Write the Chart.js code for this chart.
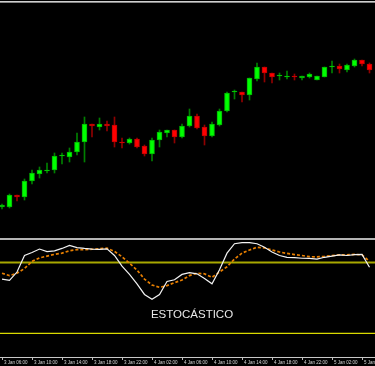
<!DOCTYPE html>
<html><head><meta charset="utf-8">
<script src="https://cdn.jsdelivr.net/npm/chart.js@4.4.1/dist/chart.umd.min.js"></script>
<style>
html,body{margin:0;padding:0;background:#000;width:375px;height:366px;overflow:hidden}
#main{position:absolute;left:0;top:0}
#osc{position:absolute;left:0;top:238px}
</style></head><body>
<canvas id="main" width="375" height="237"></canvas>
<canvas id="osc" width="375" height="128"></canvas>
<script>
// hourly candles, 3 Jan 06:00 .. 5 Jan 07:00
const hours = [
 "3 Jan 06:00","3 Jan 07:00","3 Jan 08:00","3 Jan 09:00","3 Jan 10:00","3 Jan 11:00","3 Jan 12:00","3 Jan 13:00",
 "3 Jan 14:00","3 Jan 15:00","3 Jan 16:00","3 Jan 17:00","3 Jan 18:00","3 Jan 19:00","3 Jan 20:00","3 Jan 21:00",
 "3 Jan 22:00","3 Jan 23:00","4 Jan 00:00","4 Jan 01:00","4 Jan 02:00","4 Jan 03:00","4 Jan 04:00","4 Jan 05:00",
 "4 Jan 06:00","4 Jan 07:00","4 Jan 08:00","4 Jan 09:00","4 Jan 10:00","4 Jan 11:00","4 Jan 12:00","4 Jan 13:00",
 "4 Jan 14:00","4 Jan 15:00","4 Jan 16:00","4 Jan 17:00","4 Jan 18:00","4 Jan 19:00","4 Jan 20:00","4 Jan 21:00",
 "4 Jan 22:00","4 Jan 23:00","5 Jan 00:00","5 Jan 01:00","5 Jan 02:00","5 Jan 03:00","5 Jan 04:00","5 Jan 05:00",
 "5 Jan 06:00","5 Jan 07:00"
];
const tickIdx = [0,4,8,12,16,20,24,28,32,36,40,44,48];

const open  = [1.4293,1.4293,1.4305,1.4303,1.4319,1.4326,1.4329,1.4330,1.4344,1.4343,
               1.4348,1.4358,1.4376,1.4373,1.4376,1.4375,1.4358,1.4357,1.4361,1.4354,
               1.4346,1.4360,1.4367,1.4370,1.4363,1.4374,1.4384,1.4373,1.4364,1.4375,
               1.4389,1.4408,1.4408,1.4405,1.4421,1.4433,1.4427,1.4424,1.4423,1.4424,
               1.4422,1.4423,1.4420,1.4423,1.4433,1.4434,1.4430,1.4434,1.4440,1.4436];
const high  = [1.4296,1.4306,1.4305,1.4321,1.4330,1.4333,1.4337,1.4347,1.4347,1.4352,
               1.4367,1.4383,1.4376,1.4382,1.4379,1.4383,1.4362,1.4362,1.4362,1.4355,
               1.4362,1.4370,1.4370,1.4370,1.4376,1.4391,1.4386,1.4375,1.4378,1.4391,
               1.4408,1.4410,1.4408,1.4422,1.4437,1.4433,1.4427,1.4427,1.4429,1.4426,
               1.4424,1.4427,1.4424,1.4433,1.4439,1.4436,1.4436,1.4441,1.4440,1.4437];
const low   = [1.4291,1.4292,1.4299,1.4300,1.4316,1.4322,1.4327,1.4327,1.4336,1.4338,
               1.4345,1.4338,1.4363,1.4370,1.4369,1.4353,1.4352,1.4356,1.4352,1.4344,
               1.4339,1.4353,1.4363,1.4357,1.4362,1.4373,1.4371,1.4355,1.4363,1.4374,
               1.4388,1.4401,1.4398,1.4400,1.4419,1.4418,1.4417,1.4420,1.4421,1.4420,
               1.4420,1.4422,1.4420,1.4423,1.4427,1.4427,1.4428,1.4433,1.4434,1.4427];
const close = [1.4295,1.4305,1.4303,1.4319,1.4327,1.4330,1.4330,1.4344,1.4344,1.4348,
               1.4358,1.4376,1.4374,1.4376,1.4374,1.4358,1.4357,1.4361,1.4353,1.4346,
               1.4360,1.4368,1.4370,1.4363,1.4374,1.4384,1.4372,1.4364,1.4376,1.4389,
               1.4407,1.4408,1.4405,1.4422,1.4433,1.4427,1.4423,1.4424,1.4424,1.4423,
               1.4424,1.4426,1.4424,1.4433,1.4433,1.4431,1.4435,1.4440,1.4436,1.4430];

// Stochastic oscillator
const stochK = [66,65,72,86,88.5,91.5,89.3,90,92,94.5,
                92.7,92,91.5,91.2,91.6,86,77,70,62,53,
                49,53,64,65.5,70,71.5,70.5,66.5,62,74,
                88,96,97,97,96,93,89,86,84.5,84.2,
                83.7,83.5,83,84.5,85.5,86.5,86,86.8,87,76];
const stochD = [71,69,71,75,81,84,85.5,87,88,90,
                91,91,91.3,91.8,92.2,89.5,85,79.5,73.7,66,
                61,59,60.5,63,65.2,69,71,70.5,67.5,72,
                76.5,83,88,90.7,93,92.5,90.7,89,87.8,86.8,
                86,85,84.8,85.3,86,86.5,86.5,87,86.5,81];
const levels = [80, 20];
const indicatorName = "ESTOCÁSTICO";

const xMin = -0.2667, xMax = 49.7333;
const isUp = i => close[i] >= open[i];

const frameMain = {
  id:'frameMain',
  afterDraw(c){
    const ctx=c.ctx; ctx.save();
    ctx.fillStyle='#cfcfcf'; ctx.fillRect(0,1,375,1);
    ctx.fillStyle='#858585'; ctx.fillRect(0,2,375,1);
    ctx.restore();
  }
};

new Chart(document.getElementById('main'), {
  type:'bar',
  data:{
    datasets:[
      { label:'body', order:0, grouped:false,
        data: hours.map((h,i)=>({x:i, y:[open[i], close[i]]})),
        backgroundColor: ctx => isUp(ctx.dataIndex) ? '#00ff00' : '#ff0000',
        borderColor: ctx => isUp(ctx.dataIndex) ? '#00b400' : '#c00000',
        borderWidth:1, borderSkipped:false, barThickness:5, minBarLength:1 },
      { label:'wick', order:1, grouped:false,
        data: hours.map((h,i)=>({x:i, y:[low[i], high[i]]})),
        backgroundColor: ctx => isUp(ctx.dataIndex) ? '#008000' : '#900000',
        borderWidth:0, barThickness:1 }
    ]
  },
  options:{
    responsive:false, animation:false,
    layout:{padding:{top:4,left:0,right:0,bottom:0}},
    plugins:{legend:{display:false}, tooltip:{enabled:false}},
    scales:{
      x:{type:'linear', min:xMin, max:xMax, offset:false, display:false},
      y:{min:1.4263, max:1.4496, display:false}
    }
  },
  plugins:[frameMain]
});

const oscDeco = {
  id:'oscDeco',
  afterDraw(c){
    const ctx=c.ctx; ctx.save();
    ctx.fillStyle='#b4b4b4'; ctx.fillRect(0,0,375,2);
    ctx.fillStyle='#e8e8e8';
    ctx.font='11.5px "Liberation Sans", Arial, sans-serif';
    ctx.textAlign='center'; ctx.textBaseline='middle';
    ctx.fillText(indicatorName, 192, 76.5);
    ctx.restore();
  }
};

new Chart(document.getElementById('osc'), {
  type:'line',
  data:{
    datasets:[
      { label:'%K', order:0, data: stochK.map((v,i)=>({x:i,y:v})),
        borderColor:'#f2f2f2', borderWidth:1.2, pointRadius:0, tension:0, fill:false },
      { label:'%D', order:1, data: stochD.map((v,i)=>({x:i,y:v})),
        borderColor:'#e87f00', borderWidth:1.7, borderDash:[3,2], pointRadius:0, tension:0, fill:false },
      { label:'level80', order:2, data:[{x:xMin,y:levels[0]},{x:xMax,y:levels[0]}],
        borderColor:'#a8a800', borderWidth:2, pointRadius:0 },
      { label:'level20', order:2, data:[{x:xMin,y:levels[1]},{x:xMax,y:levels[1]}],
        borderColor:'#dada00', borderWidth:1.4, pointRadius:0 }
    ]
  },
  options:{
    responsive:false, animation:false,
    layout:{padding:{top:1,left:0,right:0,bottom:0}},
    plugins:{legend:{display:false}, tooltip:{enabled:false}},
    scales:{
      x:{type:'linear', min:xMin, max:xMax, offset:false,
         afterBuildTicks: s => { s.ticks = tickIdx.map(v=>({value:v})); },
         afterFit: s => { s.height = 9; s.paddingLeft = 0; s.paddingRight = 0; },
         grid:{display:true, drawOnChartArea:false, drawTicks:true, tickLength:3, color:'#bdbdbd'},
         border:{display:true, color:'#c8c8c8', width:1},
         ticks:{autoSkip:false, maxRotation:0, align:'start', labelOffset:2, padding:0,
                color:'#d6d6d6', font:{family:'"Liberation Sans", Arial, sans-serif', size:4.5},
                callback: v => hours[v] }
      },
      y:{min:0, max:100, display:false}
    }
  },
  plugins:[oscDeco]
});
</script>
</body></html>
